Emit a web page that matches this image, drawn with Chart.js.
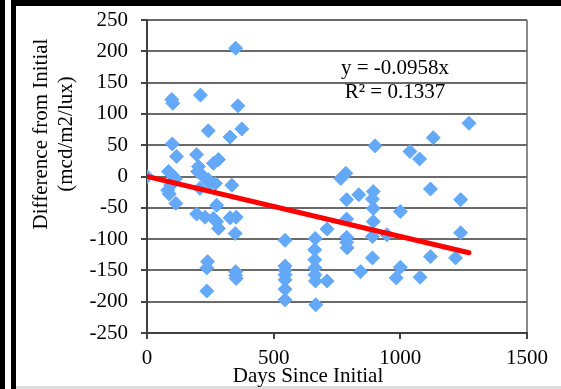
<!DOCTYPE html>
<html>
<head>
<meta charset="utf-8">
<script src="https://cdn.jsdelivr.net/npm/chart.js@4"></script>
<style>
html,body{margin:0;padding:0;background:#fff;}
#wrap{width:561px;height:389px;position:relative;}
</style>
</head>
<body>
<div id="wrap"><canvas id="c" width="561" height="389"></canvas></div>
<script>
// ---- data ----
const days = [
  0, 98, 102, 100, 117, 85, 95, 105, 112, 82, 88, 94, 114,
  211, 242, 328, 374, 350, 359, 196, 203, 200, 222, 242, 249, 209, 262, 282, 270, 335,
  275, 196, 229, 262, 275, 282, 328, 352, 348, 239, 236, 236, 350, 350, 352,
  545, 545, 545, 545, 545, 545, 545, 664, 662, 662, 663, 663, 665, 666, 711, 711,
  765, 785, 788, 836, 788, 788, 788, 790, 843, 893, 890, 893, 893, 890, 890, 900, 947,
  1000, 1000, 984, 1038, 1076, 1078, 1130, 1119, 1119, 1218, 1238, 1238, 1271
];
const diffs = [
  0, 123, 117, 52, 32, 8, 4, 0, -4, -22, -28, -14, -43,
  130, 73, 63, 76, 205, 113, 35, 16, 8, 0, -5, -11, -19, 21, 27, -11, -14,
  -46, -60, -65, -67, -72, -83, -66, -65, -91, -136, -146, -183, -152, -158, -163,
  -102, -143, -150, -157, -165, -180, -197, -99, -117, -133, -146, -157, -167, -205, -167, -84,
  -3, 5, -37, -29, -68, -97, -105, -114, -152, -24, -36, -51, -72, -96, -130, 49, -93,
  -56, -145, -162, 40, 28, -161, 62, -20, -128, -130, -37, -90, 85
];
const trendSlope = -0.0958;
const trendR2 = 0.1337;
const xTicks = [0, 500, 1000, 1500];
const yTicks = [-250, -200, -150, -100, -50, 0, 50, 100, 150, 200, 250];
const xTitle = "Days Since Initial";
const yTitle = ["Difference from Initial", "(mcd/m2/lux)"];
const eqLines = ["y = " + trendSlope + "x", "R\u00B2 = " + trendR2];

const FONT = "'Liberation Serif', 'Times New Roman', serif";
const points = days.map((d, i) => ({x: d, y: diffs[i]}));
const xMaxData = Math.max(...days);
const trend = [{x: 0, y: 0}, {x: xMaxData, y: trendSlope * xMaxData}];

const decor = {
  id: 'decor',
  afterDraw(chart) {
    const ctx = chart.ctx;
    ctx.save();
    // frame borders
    ctx.fillStyle = '#000';
    ctx.fillRect(0, 0, 5, 389);
    ctx.fillRect(11, 0, 5, 389);
    ctx.fillRect(11, 0, 550, 6);
    ctx.fillStyle = '#dcdcdc';
    ctx.fillRect(16, 386, 545, 3);
    // y title (two lines, rotated)
    ctx.fillStyle = '#000';
    ctx.font = '21px ' + FONT;
    ctx.textAlign = 'center';
    ctx.textBaseline = 'alphabetic';
    const yBase = [47, 72];
    yTitle.forEach((t, i) => {
      ctx.save();
      ctx.translate(yBase[i], 134);
      ctx.rotate(-Math.PI / 2);
      ctx.fillText(t, 0, 0);
      ctx.restore();
    });
    // x title
    ctx.fillText(xTitle, 308, 382);
    // equation
    ctx.fillText(eqLines[0], 395, 74);
    ctx.fillText(eqLines[1], 395, 98);
    ctx.restore();
  }
};

new Chart(document.getElementById('c'), {
  type: 'scatter',
  data: {
    datasets: [
      {
        type: 'line',
        data: trend,
        borderColor: '#ff0000',
        borderWidth: 5,
        pointRadius: 0,
        fill: false,
        order: 0,
        borderCapStyle: 'round'
      },
      {
        data: points,
        pointStyle: 'rectRot',
        pointRadius: 7,
        backgroundColor: '#64a9f8',
        borderColor: '#64a9f8',
        borderWidth: 1,
        order: 1
      }
    ]
  },
  options: {
    responsive: false,
    animation: false,
    events: [],
    layout: {padding: {left: 15, top: 20, right: 34, bottom: 0}},
    plugins: {legend: {display: false}, tooltip: {enabled: false}},
    scales: {
      x: {
        type: 'linear',
        min: 0, max: 1500,
        afterBuildTicks(scale) { scale.ticks = xTicks.map(v => ({value: v})); },
        afterFit(scale) { scale.height = 56; },
        ticks: {font: {family: FONT, size: 21}, color: '#000', padding: 7, maxRotation: 0,
                callback: (v) => String(v)},
        grid: {
          color: (c) => (c.tick && c.tick.value === 1500) ? '#8a8a8a' : 'rgba(0,0,0,0)',
          lineWidth: 2,
          tickColor: '#444',
          tickLength: 6
        },
        border: {color: '#404040', width: 2}
      },
      y: {
        type: 'linear',
        min: -250, max: 250,
        afterBuildTicks(scale) { scale.ticks = yTicks.map(v => ({value: v})); },
        afterFit(scale) { scale.width = 132; scale.paddingTop = 0; scale.paddingBottom = 0; },
        ticks: {font: {family: FONT, size: 21}, color: '#000', padding: 13,
                callback: (v) => String(v)},
        grid: {color: '#6a6a6a', lineWidth: 2, tickColor: '#444', tickLength: 6},
        border: {color: '#404040', width: 2}
      }
    }
  },
  plugins: [decor]
});
</script>
</body>
</html>
